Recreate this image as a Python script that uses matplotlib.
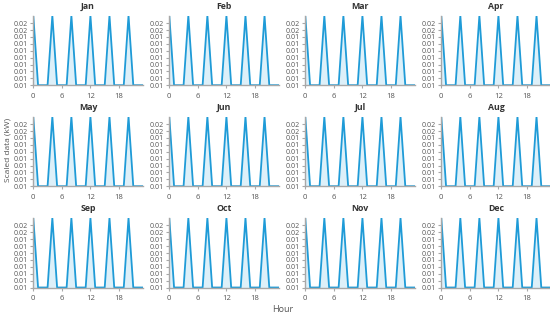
import matplotlib
matplotlib.use("Agg")
import matplotlib.pyplot as plt
import numpy as np

plt.rcParams['font.family'] = ['Open Sans', 'DejaVu Sans']

months = ["Jan", "Feb", "Mar", "Apr", "May", "Jun",
          "Jul", "Aug", "Sep", "Oct", "Nov", "Dec"]
hours = list(range(24))
# same hourly profile for every month
profile = [0.0177, 0.0056, 0.0056, 0.0056, 0.0177, 0.0056, 0.0056, 0.0056,
           0.0177, 0.0056, 0.0056, 0.0056, 0.0177, 0.0056, 0.0056, 0.0056,
           0.0177, 0.0056, 0.0056, 0.0056, 0.0177, 0.0056, 0.0056, 0.0056]
monthly_values = {m: profile for m in months}
y_ticks = [0.0056 + 0.0012 * k for k in range(10)]
x_ticks = [0, 6, 12, 18]

W, H = 550, 320
fig = plt.figure(figsize=(W / 100, H / 100), dpi=100)

col_left = [33.3, 169.3, 305.3, 441.3]
row_top = [15.7, 116.7, 218.0]
ax_w, ax_h = 109.5, 69.5

line_color = "#1f9bd7"
axis_color = "#a8a8a8"
text_color = "#555555"

for i, m in enumerate(months):
    r, c = divmod(i, 4)
    left = col_left[c] / W
    bottom = 1 - (row_top[r] + ax_h) / H
    ax = fig.add_axes([left, bottom, ax_w / W, ax_h / H])
    vals = monthly_values[m]
    ymin, ymax = min(vals), max(vals)
    ax.fill_between(hours, vals, ymin, color=line_color, alpha=0.15, linewidth=0)
    ax.plot(hours, vals, color=line_color, linewidth=1.3)
    ax.set_xlim(0, 23)
    ax.set_ylim(ymin, ymax)
    ax.set_xticks(x_ticks)
    ax.set_yticks(y_ticks)
    ax.set_yticklabels([f"{t:.2f}" for t in y_ticks])
    for s in ["top", "right"]:
        ax.spines[s].set_visible(False)
    for s in ["left", "bottom"]:
        ax.spines[s].set_color(axis_color)
        ax.spines[s].set_linewidth(1.0)
    ax.tick_params(axis="both", colors=axis_color, labelcolor=text_color,
                   labelsize=5.0, length=2.5, width=0.8, pad=1.2)
    ax.tick_params(axis="x", labelsize=5.5, pad=3)
    ax.set_title(m, fontsize=6.3, fontweight="bold", color="#333333", pad=5)

fig.text(8 / W, 1 - 150 / H, "Scaled data (kW)", rotation=90, ha="center",
         va="center", fontsize=6.0, color=text_color)
fig.text(283 / W, 1 - 310 / H, "Hour", ha="center", va="center",
         fontsize=6.5, color=text_color)

fig.savefig("out.png", dpi=100)
